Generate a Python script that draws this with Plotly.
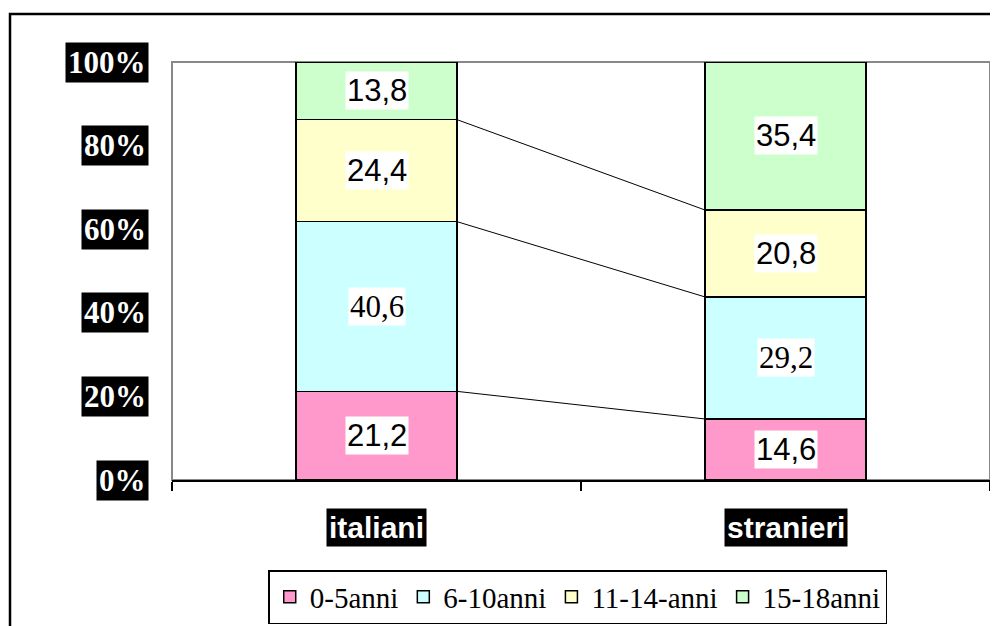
import plotly.graph_objects as go

categories = ["italiani", "stranieri"]
series_names = ["0-5anni", "6-10anni", "11-14-anni", "15-18anni"]
v_0_5 = [21.2, 14.6]
v_6_10 = [40.6, 29.2]
v_11_14 = [24.4, 20.8]
v_15_18 = [13.8, 35.4]
y_ticks = [0, 20, 40, 60, 80, 100]
y_tick_text = ["0%", "20%", "40%", "60%", "80%", "100%"]

series_values = [v_0_5, v_6_10, v_11_14, v_15_18]
colors = ["#FF99CC", "#CCFFFF", "#FFFFCC", "#CCFFCC"]
SERIF = "Liberation Serif"
SANS = "Liberation Sans"
label_fonts = [SANS, SERIF, SANS, SANS]

# page offset (body margin of 8px)
OFF = 8
W, H = 998 - OFF, 626 - OFF
L, R, T, B = 172 - OFF, 8, 62 - OFF, 146
bar_w = 0.394
xpos = list(range(len(categories)))

fig = go.Figure()
for name, vals, col in zip(series_names, series_values, colors):
    fig.add_trace(go.Bar(
        x=xpos, y=vals, name=name, width=bar_w,
        marker=dict(color=col, line=dict(color="black", width=1.5)),
    ))

annotations = []
shapes = []
# data labels
for c in range(len(categories)):
    cum = 0
    for s, vals in enumerate(series_values):
        v = vals[c]
        annotations.append(dict(
            x=xpos[c], y=cum + v / 2, xref="x", yref="y",
            text=f"{v:.1f}".replace(".", ","), showarrow=False,
            bgcolor="white", borderpad=1,
            font=dict(family=label_fonts[s], size=31, color="black"),
        ))
        cum += v

# series lines between bars
for s in range(len(series_values) - 1):
    c0 = sum(series_values[k][0] for k in range(s + 1))
    c1 = sum(series_values[k][1] for k in range(s + 1))
    shapes.append(dict(type="line", xref="x", yref="y",
                       x0=xpos[0] + bar_w / 2, y0=c0,
                       x1=xpos[1] - bar_w / 2, y1=c1,
                       line=dict(color="black", width=1)))

# y tick labels (black boxes)
for v, t in zip(y_ticks, y_tick_text):
    annotations.append(dict(
        x=0, xref="paper", y=v, yref="y", xanchor="right", yanchor="middle",
        xshift=-23, text=f"<b>{t}</b>", showarrow=False, bgcolor="black",
        borderpad=2, font=dict(family=SERIF, size=31, color="white"),
    ))

# category labels (black boxes)
for c, name in zip(xpos, categories):
    annotations.append(dict(
        x=c, xref="x", y=0, yref="y", yanchor="middle", yshift=-47,
        text=f"<b>{name}</b>", showarrow=False, bgcolor="black", borderpad=2,
        font=dict(family=SANS, size=30, color="white"),
    ))

# plot area border (gray) and outer frame (black)
shapes.append(dict(type="rect", xref="paper", yref="paper", x0=0, y0=0, x1=1, y1=1,
                   line=dict(color="#888888", width=2), layer="below"))
pw, ph = W - L - R, H - T - B
shapes.append(dict(type="rect", xref="paper", yref="paper",
                   x0=(10 - OFF - L) / pw, x1=(W + 20 - L) / pw,
                   y0=-(H + 20 - T - ph) / ph, y1=1 + (T - (14 - OFF)) / ph,
                   line=dict(color="black", width=2.5)))

fig.update_layout(
    width=W, height=H,
    margin=dict(l=L, r=R, t=T, b=B, autoexpand=False),
    paper_bgcolor="white", plot_bgcolor="white",
    barmode="stack",
    showlegend=True,
    legend=dict(orientation="h", x=0.496, xanchor="center", y=-(597 - 480) / ph, yanchor="middle",
                bordercolor="black", borderwidth=1.5, bgcolor="white",
                font=dict(family=SERIF, size=29, color="black"),
                traceorder="normal", itemwidth=30),
    xaxis=dict(range=[-0.5, 1.5], showgrid=False, zeroline=False,
               tickvals=[-0.5, 0.5, 1.5], showticklabels=False,
               ticks="outside", ticklen=9, tickwidth=2, tickcolor="black",
               showline=True, linecolor="black", linewidth=2),
    yaxis=dict(range=[0, 100], showgrid=False, zeroline=False,
               showticklabels=False, ticks="", showline=False),
    annotations=annotations,
    shapes=shapes,
)

fig.write_html("out.html")
